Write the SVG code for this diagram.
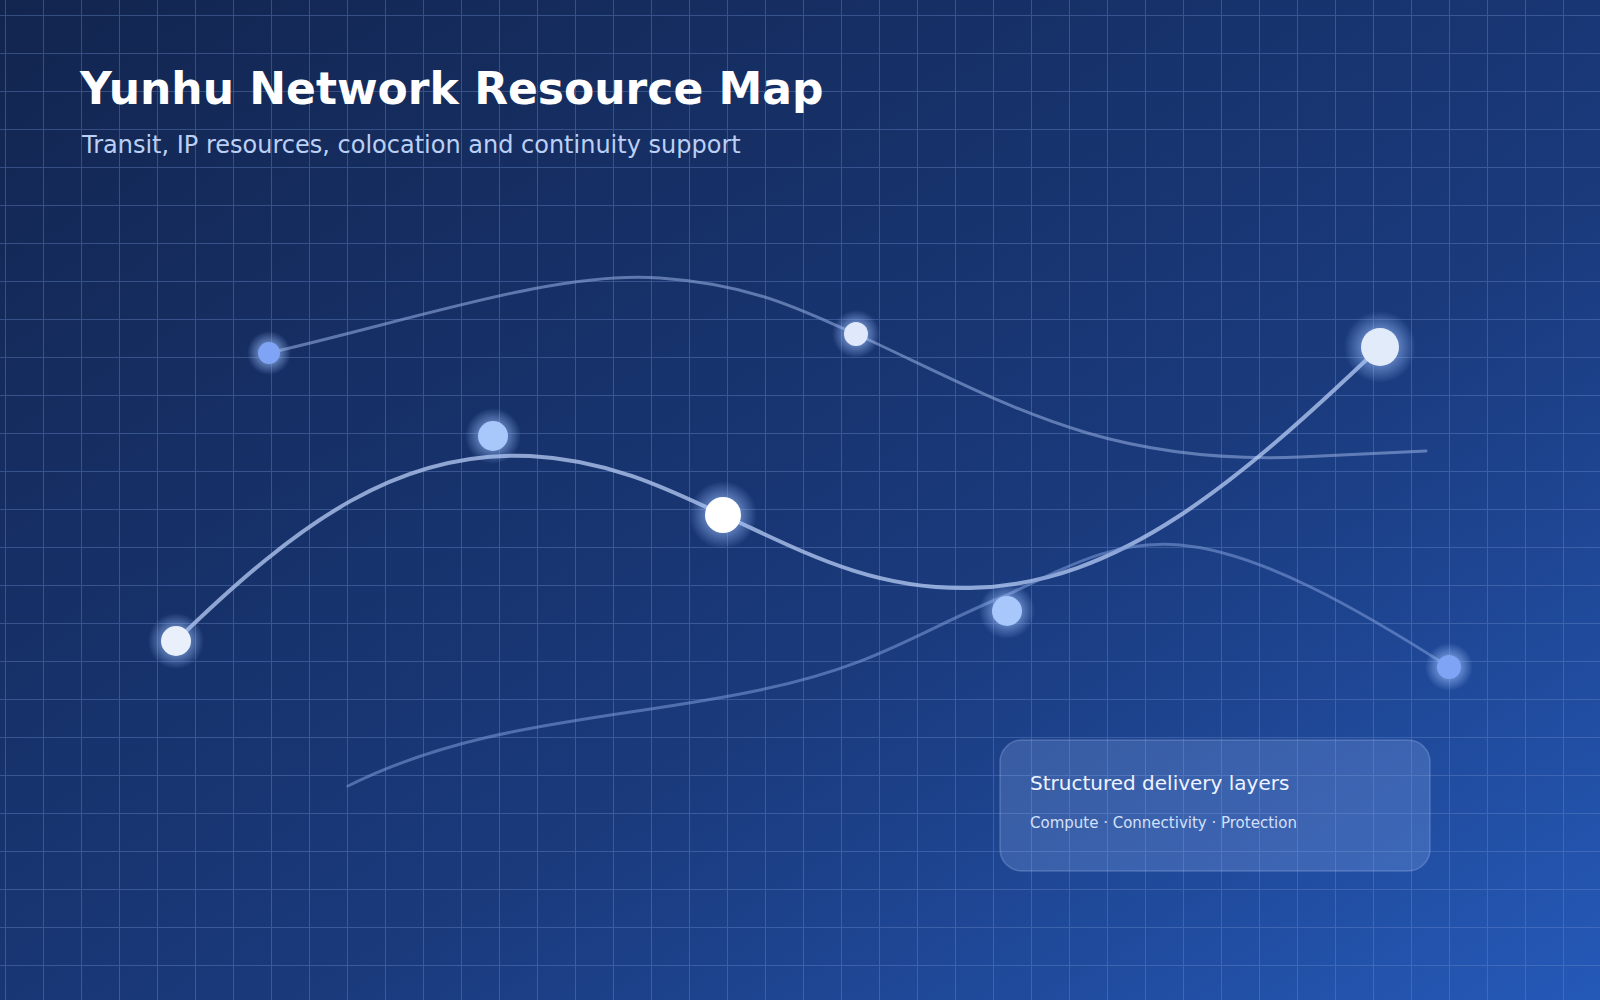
<svg xmlns="http://www.w3.org/2000/svg" width="1600" height="1000" viewBox="0 0 1600 1000">
<defs>
<linearGradient id="bg" x1="0" y1="0" x2="1" y2="1"><stop offset="0" stop-color="#12254f"/><stop offset="0.6" stop-color="#1a3a7c"/><stop offset="1" stop-color="#2559b8"/></linearGradient>
<pattern id="grid" width="38" height="38" patternUnits="userSpaceOnUse" x="5" y="15"><path d="M0 0H38M0 0V38" fill="none" stroke="#6a8acb" stroke-opacity="0.4" stroke-width="2"/></pattern>
<radialGradient id="glow"><stop offset="0.5" stop-color="#9fc2ff" stop-opacity="0.5"/><stop offset="1" stop-color="#9fc2ff" stop-opacity="0"/></radialGradient>
<style>
.t{font-family:"DejaVu Sans",sans-serif}
.c{fill:none;stroke-linecap:round}
</style>
</defs>
<rect width="1600" height="1000" fill="url(#bg)"/>
<rect width="1600" height="1000" fill="url(#grid)"/>
<text class="t" x="80" y="104" font-size="44" font-weight="bold" fill="#ffffff">Yunhu Network Resource Map</text>
<text class="t" x="82" y="153" font-size="24" fill="#bcd0f5">Transit, IP resources, colocation and continuity support</text>
<g id="connectors">
<path class="c" d="M269,353 C420,318 560,270 660,278 C760,285 810,315 856,334 C1000,400 1100,465 1300,457 L1426,451" stroke="#8fa8dc" stroke-opacity="0.6" stroke-width="3"/>
<path class="c" d="M176,641 C300,520 400,450 530,456 C610,460 670,490 723,515 C800,550 870,590 970,588 C1120,585 1240,480 1380,347" stroke="#b8cdf5" stroke-opacity="0.75" stroke-width="4"/>
<path class="c" d="M348,786 C480,720 620,720 760,690 C880,665 920,630 1007,595 C1080,560 1120,540 1180,545 C1260,552 1360,610 1449,667" stroke="#7f9cd8" stroke-opacity="0.55" stroke-width="3"/>
</g>
<g id="n1"><circle cx="269" cy="353" r="22" fill="url(#glow)"/><circle cx="269" cy="353" r="11" fill="#7fa4f5"/></g>
<g id="n2"><circle cx="856" cy="334" r="24" fill="url(#glow)"/><circle cx="856" cy="334" r="12" fill="#dfe9fb"/></g>
<g id="n3"><circle cx="1380" cy="347" r="36" fill="url(#glow)"/><circle cx="1380" cy="347" r="19" fill="#e2ebfa"/></g>
<g id="n4"><circle cx="493" cy="436" r="28" fill="url(#glow)"/><circle cx="493" cy="436" r="15" fill="#a8c8fc"/></g>
<g id="n5"><circle cx="723" cy="515" r="34" fill="url(#glow)"/><circle cx="723" cy="515" r="18" fill="#ffffff"/></g>
<g id="n6"><circle cx="176" cy="641" r="28" fill="url(#glow)"/><circle cx="176" cy="641" r="15" fill="#eaf0fb"/></g>
<g id="n7"><circle cx="1007" cy="611" r="28" fill="url(#glow)"/><circle cx="1007" cy="611" r="15" fill="#a8c8fc"/></g>
<g id="n8"><circle cx="1449" cy="667" r="24" fill="url(#glow)"/><circle cx="1449" cy="667" r="12" fill="#7fa4f5"/></g>
<g id="legend">
<rect x="1000" y="740" width="430" height="131" rx="22" fill="#8fb0f0" fill-opacity="0.25" stroke="#a8c0f0" stroke-opacity="0.3" stroke-width="1.5"/>
<text class="t" x="1030" y="790" font-size="20" fill="#eef3ff">Structured delivery layers</text>
<text class="t" x="1030" y="828" font-size="15" fill="#d3e0fa">Compute · Connectivity · Protection</text>
</g>
</svg>
